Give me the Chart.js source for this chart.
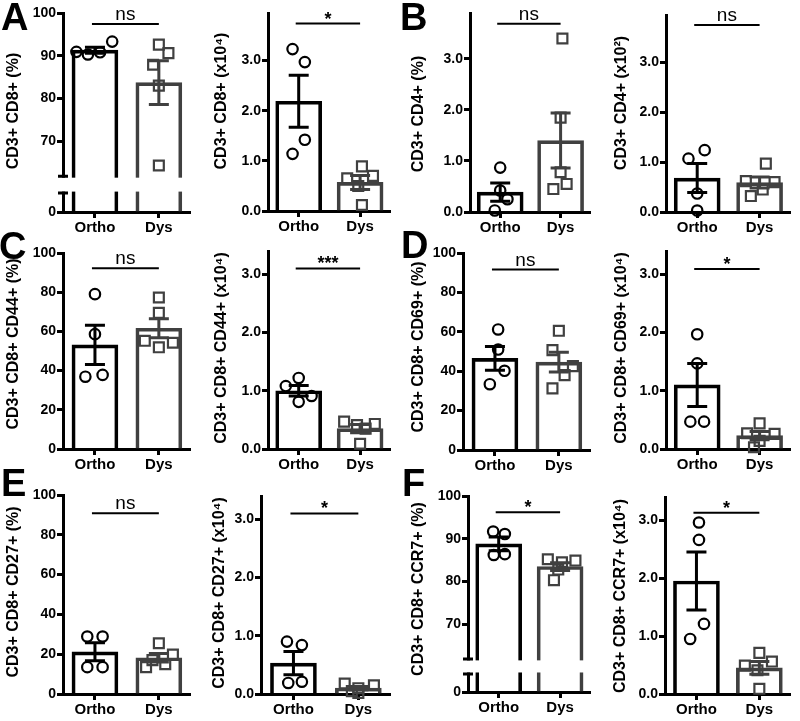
<!DOCTYPE html>
<html><head><meta charset="utf-8">
<script src="https://cdn.jsdelivr.net/npm/chart.js@4/dist/chart.umd.min.js"></script>
<style>
html,body{margin:0;padding:0;background:#fff;}
#wrap{position:relative;width:800px;height:721px;overflow:hidden;background:#fff;}
#wrap canvas{position:absolute;}
.lt{position:absolute;font:bold 38px "Liberation Sans",Arial,sans-serif;line-height:1;color:#000;}
</style></head>
<body><div id="wrap"></div>
<script>
// ---------------- DATA ----------------
const groups = ['Ortho', 'Dys'];

// Tick values / labels
const pctTicks = [0, 20, 40, 60, 80, 100];
const pctLabels = ['0', '20', '40', '60', '80', '100'];
const brokenTicks = [0, 70, 80, 90, 100];
const brokenLabels = ['0', '70', '80', '90', '100'];
const cntTicks = [0, 1, 2, 3];
const cntLabels = ['0.0', '1.0', '2.0', '3.0'];

// A: CD3+ CD8+ (%)
const cd8PctOrtho = [90.9, 90.3, 90.8, 93.3];
const cd8PctDys = [92.6, 90.6, 87.9, 83.0, 64.3];
const cd8PctMean = [91.3, 83.7];
const cd8PctSem = [0.7, 5.1];
// A: CD3+ CD8+ (x10^4)
const cd8NumOrtho = [3.23, 2.97, 1.42, 1.14];
const cd8NumDys = [0.89, 0.65, 0.70, 0.50, 0.12];
const cd8NumMean = [2.19, 0.57];
const cd8NumSem = [0.52, 0.14];
// B: CD3+ CD4+ (%)
const cd4PctOrtho = [0.87, 0.42, 0.25, 0.03];
const cd4PctDys = [3.40, 1.85, 0.78, 0.55, 0.45];
const cd4PctMean = [0.39, 1.40];
const cd4PctSem = [0.18, 0.54];
// B: CD3+ CD4+ (x10^2)
const cd4NumOrtho = [1.07, 1.24, 0.37, 0.03];
const cd4NumDys = [0.97, 0.62, 0.60, 0.45, 0.32];
const cd4NumMean = [0.68, 0.59];
const cd4NumSem = [0.29, 0.11];
// C: CD3+ CD8+ CD44+ (%)
const cd44PctOrtho = [79.0, 58.6, 36.9, 37.8];
const cd44PctDys = [77.3, 69.5, 55.2, 51.9, 54.2];
const cd44PctMean = [53.1, 61.6];
const cd44PctSem = [10.0, 4.8];
// C: CD3+ CD8+ CD44+ (x10^4)
const cd44NumOrtho = [1.08, 1.22, 0.91, 0.81];
const cd44NumDys = [0.47, 0.43, 0.41, 0.35, 0.09];
const cd44NumMean = [1.00, 0.35];
const cd44NumSem = [0.09, 0.07];
// D: CD3+ CD8+ CD69+ (%)
const cd69PctOrtho = [61.2, 51.0, 40.2, 33.4];
const cd69PctDys = [60.5, 50.7, 42.6, 38.0, 31.3];
const cd69PctMean = [46.5, 44.6];
const cd69PctSem = [6.0, 5.0];
// D: CD3+ CD8+ CD69+ (x10^4)
const cd69NumOrtho = [1.97, 1.47, 0.47, 0.47];
const cd69NumDys = [0.44, 0.27, 0.26, 0.14, 0.03];
const cd69NumMean = [1.10, 0.23];
const cd69NumSem = [0.37, 0.07];
// E: CD3+ CD8+ CD27+ (%)
const cd27PctOrtho = [28.9, 28.9, 13.5, 13.5];
const cd27PctDys = [25.5, 19.8, 17.0, 15.0, 13.5];
const cd27PctMean = [21.2, 18.2];
const cd27PctSem = [4.5, 2.1];
// E: CD3+ CD8+ CD27+ (x10^4)
const cd27NumOrtho = [0.90, 0.84, 0.19, 0.21];
const cd27NumDys = [0.18, 0.15, 0.10, 0.05, 0.02];
const cd27NumMean = [0.53, 0.10];
const cd27NumSem = [0.20, 0.03];
// F: CD3+ CD8+ CCR7+ (%)
const ccr7PctOrtho = [91.7, 91.1, 86.2, 86.4];
const ccr7PctDys = [85.2, 84.5, 84.9, 82.8, 80.3];
const ccr7PctMean = [88.8, 83.5];
const ccr7PctSem = [1.6, 0.9];
// F: CD3+ CD8+ CCR7+ (x10^4)
const ccr7NumOrtho = [2.96, 2.66, 1.21, 0.95];
const ccr7NumDys = [0.71, 0.56, 0.49, 0.41, 0.09];
const ccr7NumMean = [1.95, 0.45];
const ccr7NumSem = [0.50, 0.11];

const yTitles = [
  'CD3+ CD8+ (%)', 'CD3+ CD8+ (x10\u2074)', 'CD3+ CD4+ (%)', 'CD3+ CD4+ (x10\u00B2)',
  'CD3+ CD8+ CD44+ (%)', 'CD3+ CD8+ CD44+ (x10\u2074)', 'CD3+ CD8+ CD69+ (%)', 'CD3+ CD8+ CD69+ (x10\u2074)',
  'CD3+ CD8+ CD27+ (%)', 'CD3+ CD8+ CD27+ (x10\u2074)', 'CD3+ CD8+ CCR7+ (%)', 'CD3+ CD8+ CCR7+ (x10\u2074)'
];
const sigLabels = ['ns', '*', 'ns', 'ns', 'ns', '***', 'ns', '*', 'ns', '*', '*', '*'];
const sigLevels = [97.4, 3.74, 3.69, 3.75, 92.2, 3.10, 91.6, 3.09, 90.8, 3.10, 96.2, 3.13];

// ---------------- LAYOUT / STYLE ----------------
const FONT = '"Liberation Sans", Arial, Helvetica, sans-serif';
const COLORS = ['#000000', '#404040'];

class BrokenScale extends Chart.LinearScale {
  getPixelForValue(value) {
    const b = this.$brk;
    if (!b) return super.getPixelForValue(value);
    const H = this.bottom - this.top;
    const lowH = H * b.lowFrac, gapH = H * b.gapFrac;
    if (value <= b.lowMax) return this.bottom - value / b.lowMax * lowH;
    if (value >= b.from) return this.bottom - lowH - gapH - (value - b.from) / (this.max - b.from) * (H - lowH - gapH);
    return this.bottom - lowH - (value - b.lowMax) / (b.from - b.lowMax) * gapH;
  }
}
BrokenScale.id = 'broken';
BrokenScale.defaults = Object.assign({}, Chart.LinearScale.defaults);
Chart.register(BrokenScale);

const panels = [
  {col:0,row:0, area:[63,13,195,212], max:100, ticks:brokenTicks, labels:brokenLabels,
   brk:{from:61.8, lowMax:6, lowFrac:0.095, gapFrac:0.085}, tc:[14,111],
   o:cd8PctOrtho, d:cd8PctDys, mean:cd8PctMean, sem:cd8PctSem,
   jo:[-0.29,-0.11,0.08,0.27], jd:[0,0.15,-0.09,0,0]},
  {col:1,row:0, area:[268,13,397,211], max:3.95, ticks:cntTicks, labels:cntLabels, tc:[22,101],
   o:cd8NumOrtho, d:cd8NumDys, mean:cd8NumMean, sem:cd8NumSem,
   jo:[-0.1,0.1,0.1,-0.1], jd:[0.03,-0.21,0.21,-0.03,0.03]},
  {col:2,row:0, area:[470,13,597,212], max:3.9, ticks:cntTicks, labels:cntLabels, tc:[19,114],
   o:cd4PctOrtho, d:cd4PctDys, mean:cd4PctMean, sem:cd4PctSem,
   jo:[0,0,0.12,-0.09], jd:[0.03,0,0,0.1,-0.12]},
  {col:3,row:0, area:[666,15,795,212], max:3.95, ticks:cntTicks, labels:cntLabels, tc:[22,103],
   o:cd4NumOrtho, d:cd4NumDys, mean:cd4NumMean, sem:cd4NumSem,
   jo:[-0.14,0.12,0,0], jd:[0.1,-0.22,0.24,0.05,-0.14]},
  {col:0,row:1, area:[63,253,195,449], max:100, ticks:pctTicks, labels:pctLabels, tc:[14,104],
   o:cd44PctOrtho, d:cd44PctDys, mean:cd44PctMean, sem:cd44PctSem,
   jo:[0,0,-0.15,0.12], jd:[0,0,-0.22,0,0.22]},
  {col:1,row:1, area:[268,251,397,449], max:3.4, ticks:cntTicks, labels:cntLabels, tc:[22,108],
   o:cd44NumOrtho, d:cd44NumDys, mean:cd44NumMean, sem:cd44NumSem,
   jo:[-0.21,0,0.21,0], jd:[-0.26,0.24,-0.05,0.09,0]},
  {col:2,row:1, area:[463,253,597,450], max:100, ticks:pctTicks, labels:pctLabels, tc:[19,107],
   o:cd69PctOrtho, d:cd69PctDys, mean:cd69PctMean, sem:cd69PctSem,
   jo:[0.05,0.05,0.15,-0.08], jd:[0,-0.1,0.22,0.09,-0.1]},
  {col:3,row:1, area:[666,251,797,449], max:3.4, ticks:cntTicks, labels:cntLabels, tc:[22,108],
   o:cd69NumOrtho, d:cd69NumDys, mean:cd69NumMean, sem:cd69NumSem,
   jo:[0,0,-0.11,0.11], jd:[0,-0.2,0.24,0,-0.09]},
  {col:0,row:2, area:[63,495,195,694], max:100, ticks:pctTicks, labels:pctLabels, tc:[14,112],
   o:cd27PctOrtho, d:cd27PctDys, mean:cd27PctMean, sem:cd27PctSem,
   jo:[-0.12,0.12,-0.12,0.12], jd:[0,0.22,-0.1,0.1,-0.2]},
  {col:1,row:2, area:[261,496,397,694], max:3.4, ticks:cntTicks, labels:cntLabels, tc:[20,113],
   o:cd27NumOrtho, d:cd27NumDys, mean:cd27NumMean, sem:cd27NumSem,
   jo:[-0.1,0.13,-0.08,0.13], jd:[-0.21,0.24,0,-0.1,0]},
  {col:2,row:2, area:[468,496,597,692], max:100, ticks:brokenTicks, labels:brokenLabels,
   brk:{from:61.9, lowMax:6, lowFrac:0.092, gapFrac:0.077}, tc:[19,109],
   o:ccr7PctOrtho, d:ccr7PctDys, mean:ccr7PctMean, sem:ccr7PctSem,
   jo:[-0.09,0.1,-0.08,0.1], jd:[-0.2,0.03,0.25,-0.03,-0.1]},
  {col:3,row:2, area:[665,497,797,694], max:3.4, ticks:cntTicks, labels:cntLabels, tc:[21,116],
   o:ccr7NumOrtho, d:ccr7NumDys, mean:ccr7NumMean, sem:ccr7NumSem,
   jo:[0.04,0.04,0.12,-0.1], jd:[0,0.2,-0.23,-0.03,0]}
];

const wrap = document.getElementById('wrap');

function drawExtras(chart, p, idx) {
  const ctx = chart.ctx, y = chart.scales.y, x = chart.scales.x, ca = chart.chartArea;
  const cx = [x.getPixelForValue(0), x.getPixelForValue(1)];
  ctx.save();
  // axis break
  if (p.brk) {
    const yHi = y.getPixelForValue(p.brk.from), yLo = y.getPixelForValue(p.brk.lowMax);
    ctx.fillStyle = '#fff';
    ctx.fillRect(ca.left - 5, yHi + 1.5, ca.right - ca.left + 8, yLo - yHi - 3);
    ctx.strokeStyle = '#000'; ctx.lineWidth = 3; ctx.lineCap = 'butt';
    ctx.beginPath();
    ctx.moveTo(ca.left - 5, yHi); ctx.lineTo(ca.left + 5, yHi);
    ctx.moveTo(ca.left - 5, yLo); ctx.lineTo(ca.left + 5, yLo);
    ctx.stroke();
  }
  // error bars (SEM)
  for (let i = 0; i < 2; i++) {
    const t = y.getPixelForValue(p.mean[i] + p.sem[i]);
    const b = y.getPixelForValue(p.mean[i] - p.sem[i]);
    ctx.strokeStyle = COLORS[i]; ctx.lineWidth = 3;
    ctx.beginPath();
    ctx.moveTo(cx[i], t); ctx.lineTo(cx[i], b);
    ctx.moveTo(cx[i] - 10, t); ctx.lineTo(cx[i] + 10, t);
    ctx.moveTo(cx[i] - 10, b); ctx.lineTo(cx[i] + 10, b);
    ctx.stroke();
  }
  // significance
  const sy = y.getPixelForValue(sigLevels[idx]);
  const x0 = cx[0] - 3, x1 = cx[1];
  ctx.strokeStyle = '#000'; ctx.lineWidth = 2;
  ctx.beginPath(); ctx.moveTo(x0, sy); ctx.lineTo(x1, sy); ctx.stroke();
  ctx.fillStyle = '#000'; ctx.textAlign = 'center'; ctx.textBaseline = 'alphabetic';
  const mid = (x0 + x1) / 2;
  if (sigLabels[idx] === 'ns') {
    ctx.font = '19px ' + FONT;
    ctx.fillText('ns', mid, sy - 4);
  } else {
    ctx.font = 'bold 18px ' + FONT;
    ctx.fillText(sigLabels[idx], mid, sy + 1);
  }
  // y title
  ctx.translate(p.tc[0], p.tc[1]);
  ctx.rotate(-Math.PI / 2);
  ctx.font = 'bold 16px ' + FONT;
  ctx.textBaseline = 'middle';
  ctx.fillText(yTitles[idx], 0, 0);
  ctx.restore();
}

panels.forEach((p, idx) => {
  const W = 200, H = p.row === 2 ? 241 : 240;
  const ox = p.col * 200, oy = p.row * 240;
  const L = p.area[0] - ox, T = p.area[1] - oy, R = p.area[2] - ox, B = p.area[3] - oy;
  const cv = document.createElement('canvas');
  cv.width = W; cv.height = H;
  cv.style.left = ox + 'px'; cv.style.top = oy + 'px';
  cv.style.width = W + 'px'; cv.style.height = H + 'px';
  wrap.appendChild(cv);

  const tickFont = {family: FONT, size: 14, weight: 'bold'};
  new Chart(cv, {
    type: 'bar',
    data: {
      datasets: [
        {type: 'bar', xAxisID: 'x', yAxisID: 'y', order: 3, grouped: false,
         data: p.mean.map((m, i) => ({x: i, y: m})),
         borderColor: COLORS, backgroundColor: 'rgba(0,0,0,0)', borderWidth: 3,
         barThickness: 46, borderSkipped: 'start'},
        {type: 'scatter', xAxisID: 'x', yAxisID: 'y', order: 1, clip: false,
         data: p.o.map((v, i) => ({x: 0 + p.jo[i], y: v})),
         pointStyle: 'circle', pointRadius: 5.2, borderColor: COLORS[0],
         backgroundColor: 'rgba(0,0,0,0)', borderWidth: 2.2},
        {type: 'scatter', xAxisID: 'x', yAxisID: 'y', order: 2, clip: false,
         data: p.d.map((v, i) => ({x: 1 + p.jd[i], y: v})),
         pointStyle: 'rect', pointRadius: 7, borderColor: COLORS[1],
         backgroundColor: 'rgba(0,0,0,0)', borderWidth: 2.2}
      ]
    },
    options: {
      responsive: false, animation: false, events: [],
      layout: {padding: {left: 0, top: T, right: W - R, bottom: 0}},
      plugins: {legend: {display: false}, tooltip: {enabled: false}, title: {display: false}},
      scales: {
        x: {type: 'linear', min: -0.5, max: 1.5, offset: false,
            grid: {display: true, drawOnChartArea: false, offset: false, tickLength: 6, tickWidth: 3, tickColor: '#000'},
            border: {display: true, color: '#000', width: 3},
            ticks: {color: '#000', font: {family: FONT, size: 15, weight: 'bold'}, padding: 1, maxRotation: 0,
                    autoSkip: false, callback: (v, i) => groups[i]},
            afterBuildTicks: s => { s.ticks = [{value: 0}, {value: 1}]; },
            afterFit: s => { s.height = H - B; }},
        y: {type: p.brk ? 'broken' : 'linear', min: 0, max: p.max,
            beforeUpdate: s => { s.$brk = p.brk; },
            grid: {display: true, drawOnChartArea: false, tickLength: 6, tickWidth: 3, tickColor: '#000'},
            border: {display: true, color: '#000', width: 3},
            ticks: {color: '#000', font: tickFont, padding: 1, autoSkip: false,
                    callback: (v, i) => p.labels[i]},
            afterBuildTicks: s => { s.ticks = p.ticks.map(v => ({value: v})); },
            afterFit: s => { s.width = L; }}
      }
    },
    plugins: [{id: 'extras' + idx, afterDatasetsDraw: (chart) => drawExtras(chart, p, idx)}]
  });
});

// panel letters
const letters = [['A', 1, 3], ['B', 400, 3], ['C', -1, 232], ['D', 401, 231], ['E', 1, 469], ['F', 402, 469]];
letters.forEach(([t, x, capTop]) => {
  const d = document.createElement('div');
  d.className = 'lt'; d.textContent = t;
  d.style.left = x + 'px'; d.style.top = (capTop - 5) + 'px';
  wrap.appendChild(d);
});
</script>
</body></html>
